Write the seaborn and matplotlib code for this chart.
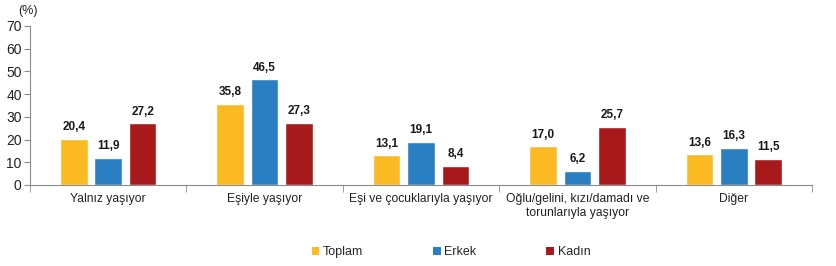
import matplotlib
matplotlib.use("Agg")
import matplotlib.pyplot as plt
import seaborn as sns
import pandas as pd
from matplotlib.patches import Patch

categories = ["Yalnız yaşıyor", "Eşiyle yaşıyor", "Eşi ve çocuklarıyla yaşıyor",
              "Oğlu/gelini, kızı/damadı ve\ntorunlarıyla yaşıyor", "Diğer"]
series = ["Toplam", "Erkek", "Kadın"]
toplam = [20.4, 35.8, 13.1, 17.0, 13.6]
erkek = [11.9, 46.5, 19.1, 6.2, 16.3]
kadin = [27.2, 27.3, 8.4, 25.7, 11.5]
colors = ["#FBBA22", "#2A7EC2", "#A8191C"]

rows = []
for s, vals in zip(series, [toplam, erkek, kadin]):
    for c, v in zip(categories, vals):
        rows.append({"cat": c, "series": s, "value": v})
df = pd.DataFrame(rows)

sns.set_style("white")
plt.rcParams["font.family"] = ["Liberation Sans", "DejaVu Sans"]

fig = plt.figure(figsize=(8.36, 2.66), dpi=100)
ax = fig.add_axes([30/836, 1-185/266, (812-30)/836, (185-26)/266])

sns.barplot(data=df, x="cat", y="value", hue="series", order=categories,
            hue_order=series, palette=colors, width=0.66, gap=0.2,
            saturation=1, ax=ax, legend=False, errorbar=None)

for cont in ax.containers:
    labels = [f"{b.get_height():.1f}".replace(".", ",") for b in cont]
    ax.bar_label(cont, labels=labels, padding=4, fontsize=8.5,
                 fontweight="bold", color="#1a1a1a")

ax.set_ylim(0, 70)
ax.set_xlim(-0.5, 4.5)
ax.set_yticks(range(0, 71, 10))
ax.set_xlabel("")
ax.set_ylabel("")
for sp in ["top", "right"]:
    ax.spines[sp].set_visible(False)
for sp in ["left", "bottom"]:
    ax.spines[sp].set_color("#8c8c8c")
    ax.spines[sp].set_linewidth(0.8)
ax.tick_params(axis="y", left=True, length=4, color="#8c8c8c", labelsize=10,
               pad=2, labelcolor="#222222")
ax.tick_params(axis="x", which="major", length=0, labelsize=8.7, pad=6,
               labelcolor="#222222")
ax.set_xticks([i - 0.5 for i in range(6)], minor=True)
ax.tick_params(axis="x", which="minor", bottom=True, length=5, color="#8c8c8c")

fig.text(18/836, 1-11/266, "(%)", fontsize=9, color="#222222", va="center")

handles = [Patch(facecolor=c, edgecolor="none") for c in colors]
fig.legend(handles, series, loc="center", bbox_to_anchor=(451/836, 1-252/266),
           ncol=3, frameon=False, fontsize=9, handlelength=0.6,
           handleheight=0.6, handletextpad=0.3, columnspacing=5.6)

fig.savefig("out.png", dpi=100)
